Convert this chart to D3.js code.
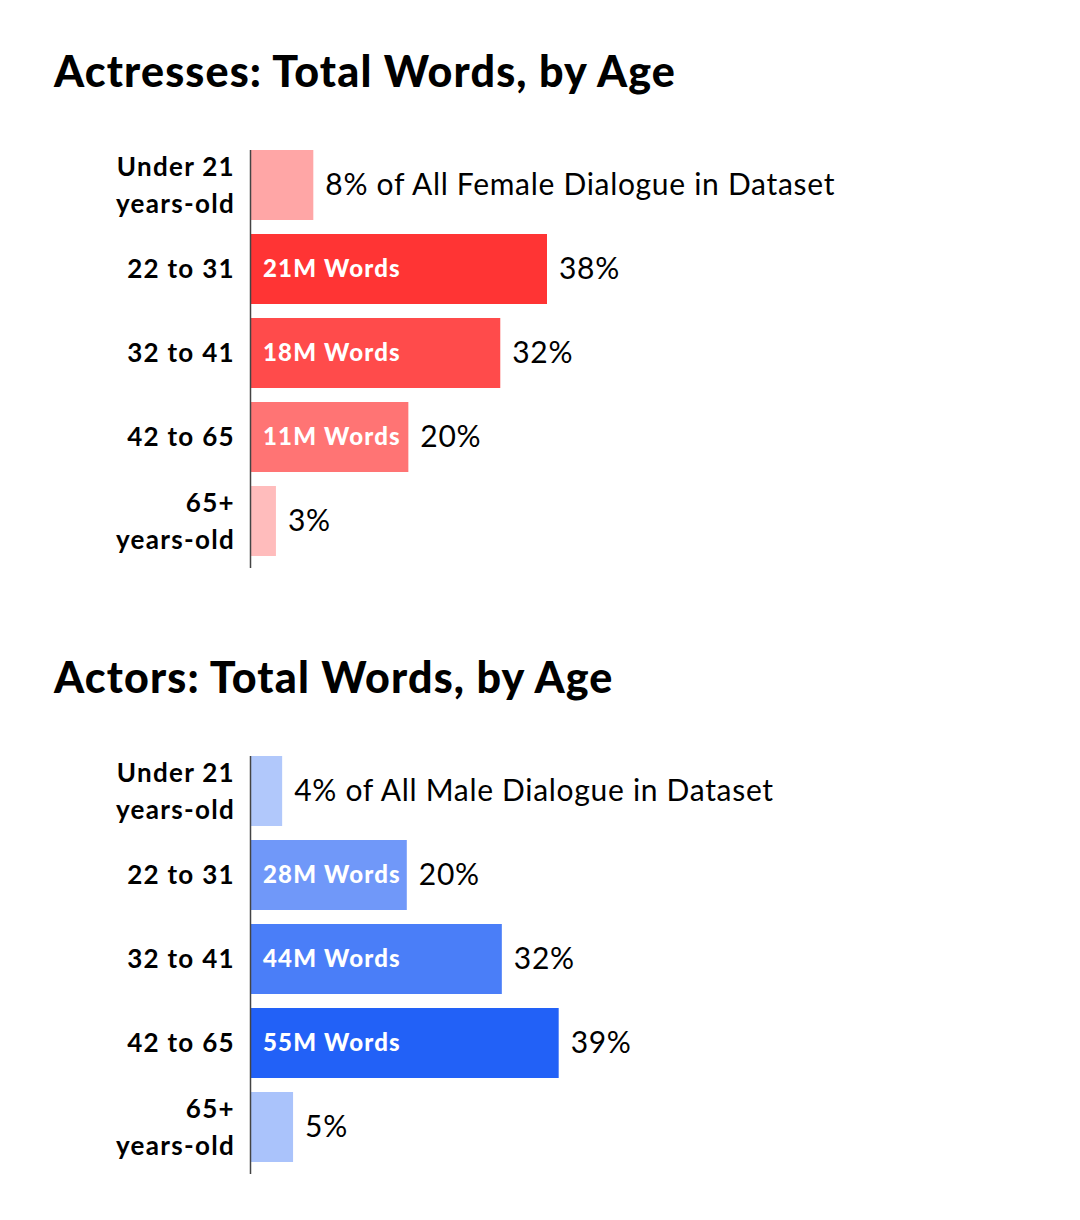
<!DOCTYPE html>
<html><head><meta charset="utf-8">
<script src="https://cdn.jsdelivr.net/npm/d3@7"></script>
<style>
body{margin:0;background:#fff;}
text{font-family:"Lato","Noto Sans",sans-serif;}
</style></head>
<body><svg id="c" width="1080" height="1220"></svg>
<script>
const categories = [["Under 21","years-old"],["22 to 31"],["32 to 41"],["42 to 65"],["65+","years-old"]];
const femaleValues = [8.0, 38.0, 32.0, 20.2, 3.2];
const femalePctLabels = ["8% of All Female Dialogue in Dataset","38%","32%","20%","3%"];
const femaleWordLabels = ["","21M Words","18M Words","11M Words",""];
const femaleColors = ["#ffa6a6","#ff3434","#ff4b4b","#ff7474","#ffbcbc"];
const maleValues = [4.0, 20.0, 32.2, 39.5, 5.4];
const malePctLabels = ["4% of All Male Dialogue in Dataset","20%","32%","39%","5%"];
const maleWordLabels = ["","28M Words","44M Words","55M Words",""];
const maleColors = ["#b1c8fb","#7098f9","#4a7ef8","#2261f7","#aac3fb"];
const titles = ["Actresses: Total Words, by Age","Actors: Total Words, by Age"];

const svg = d3.select("#c");
const x = d3.scaleLinear().domain([0,38]).range([251,547]);

function panel(top, title, values, pctLabels, wordLabels, colors){
  const g = svg.append("g");
  g.append("text").attr("x",54).attr("y",top-63).attr("font-size",43).attr("font-weight",900)
    .attr("letter-spacing",1.15).attr("fill","#000").text(title);
  const y = d3.scaleBand().domain(d3.range(values.length)).range([top, top+406]).paddingInner(14/84).paddingOuter(0);
  g.selectAll("rect.bar").data(values).join("rect").attr("class","bar")
    .attr("x",x(0)).attr("y",(d,i)=>y(i)).attr("width",d=>x(d)-x(0)).attr("height",y.bandwidth())
    .attr("fill",(d,i)=>colors[i]);
  g.append("line").attr("x1",250.5).attr("x2",250.5).attr("y1",top).attr("y2",top+418)
    .attr("stroke","#444").attr("stroke-width",1.5);
  categories.forEach((c,i)=>{
    const cy = y(i)+y.bandwidth()/2;
    const t = g.append("text").attr("x",235).attr("text-anchor","end").attr("font-size",26)
      .attr("font-weight",700).attr("letter-spacing",1.3).attr("fill","#000");
    if(c.length===1){
      t.append("tspan").attr("x",235).attr("y",cy+9).text(c[0]);
    } else {
      t.append("tspan").attr("x",235).attr("y",cy-9).text(c[0]);
      t.append("tspan").attr("x",235).attr("y",cy+28).text(c[1]);
    }
  });
  g.selectAll("text.pct").data(values).join("text").attr("class","pct")
    .attr("x",d=>x(d)+12).attr("y",(d,i)=>y(i)+y.bandwidth()/2+10)
    .attr("font-size",30).attr("letter-spacing",0.7).attr("fill","#000").text((d,i)=>pctLabels[i]);
  g.selectAll("text.words").data(values).join("text").attr("class","words")
    .attr("x",263).attr("y",(d,i)=>y(i)+y.bandwidth()/2+8)
    .attr("font-size",24).attr("font-weight",900).attr("letter-spacing",1.2).attr("fill","#fff").text((d,i)=>wordLabels[i]);
}
panel(150, titles[0], femaleValues, femalePctLabels, femaleWordLabels, femaleColors);
panel(756, titles[1], maleValues, malePctLabels, maleWordLabels, maleColors);
</script></body></html>
